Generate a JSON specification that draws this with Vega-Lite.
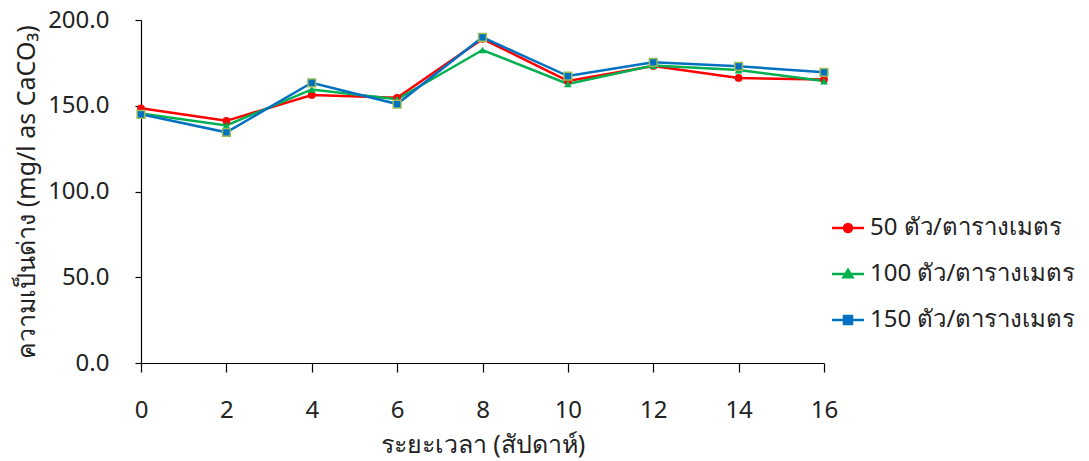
{
  "$schema": "https://vega.github.io/schema/vega-lite/v6.json",
  "autosize": "none",
  "width": 683,
  "height": 343,
  "padding": {"left": 141, "top": 20, "right": 265, "bottom": 98},
  "background": "white",
  "config": {
    "view": {"stroke": null},
    "font": "Tahoma, Noto Sans, sans-serif",
    "axis": {"grid": false, "domainColor": "black", "tickColor": "black", "labelColor": "#222", "titleColor": "#222", "labelFont": "Tahoma, Noto Sans, sans-serif", "titleFont": "Tahoma, Noto Sans, sans-serif", "labelFontSize": 24, "titleFontSize": 25, "titleFontWeight": "normal", "domainWidth": 1.2, "tickWidth": 1.2}
  },
  "data": {
    "values": [
      {"week": 0, "series": "50 ตัว/ตารางเมตร", "value": 148.5},
      {"week": 2, "series": "50 ตัว/ตารางเมตร", "value": 141.2},
      {"week": 4, "series": "50 ตัว/ตารางเมตร", "value": 156.3},
      {"week": 6, "series": "50 ตัว/ตารางเมตร", "value": 154.6},
      {"week": 8, "series": "50 ตัว/ตารางเมตร", "value": 189.0},
      {"week": 10, "series": "50 ตัว/ตารางเมตร", "value": 164.5},
      {"week": 12, "series": "50 ตัว/ตารางเมตร", "value": 173.2},
      {"week": 14, "series": "50 ตัว/ตารางเมตร", "value": 166.2},
      {"week": 16, "series": "50 ตัว/ตารางเมตร", "value": 165.3},
      {"week": 0, "series": "100 ตัว/ตารางเมตร", "value": 145.5},
      {"week": 2, "series": "100 ตัว/ตารางเมตร", "value": 138.5},
      {"week": 4, "series": "100 ตัว/ตารางเมตร", "value": 159.5},
      {"week": 6, "series": "100 ตัว/ตารางเมตร", "value": 153.8},
      {"week": 8, "series": "100 ตัว/ตารางเมตร", "value": 182.5},
      {"week": 10, "series": "100 ตัว/ตารางเมตร", "value": 162.7},
      {"week": 12, "series": "100 ตัว/ตารางเมตร", "value": 173.4},
      {"week": 14, "series": "100 ตัว/ตารางเมตร", "value": 170.8},
      {"week": 16, "series": "100 ตัว/ตารางเมตร", "value": 164.4},
      {"week": 0, "series": "150 ตัว/ตารางเมตร", "value": 145.0},
      {"week": 2, "series": "150 ตัว/ตารางเมตร", "value": 134.5},
      {"week": 4, "series": "150 ตัว/ตารางเมตร", "value": 163.4},
      {"week": 6, "series": "150 ตัว/ตารางเมตร", "value": 151.0},
      {"week": 8, "series": "150 ตัว/ตารางเมตร", "value": 189.9},
      {"week": 10, "series": "150 ตัว/ตารางเมตร", "value": 167.3},
      {"week": 12, "series": "150 ตัว/ตารางเมตร", "value": 175.3},
      {"week": 14, "series": "150 ตัว/ตารางเมตร", "value": 173.0},
      {"week": 16, "series": "150 ตัว/ตารางเมตร", "value": 169.5}
    ]
  },
  "encoding": {
    "x": {
      "field": "week", "type": "quantitative",
      "scale": {"domain": [0, 16], "nice": false, "zero": false},
      "axis": {"values": [0, 2, 4, 6, 8, 10, 12, 14, 16], "title": "ระยะเวลา (สัปดาห์)", "tickSize": 9, "labelPadding": 26, "titlePadding": 10, "labelFlush": false}
    },
    "y": {
      "field": "value", "type": "quantitative",
      "scale": {"domain": [0, 200], "nice": false},
      "axis": {"values": [0, 50, 100, 150, 200], "format": ".1f", "title": "ความเป็นด่าง (mg/l as CaCO₃)", "tickSize": 6, "labelPadding": 26, "titlePadding": 8}
    }
  },
  "layer": [
    {
      "mark": {"type": "line", "strokeWidth": 2.5},
      "encoding": {
        "color": {
          "field": "series", "type": "nominal",
          "scale": {"domain": ["50 ตัว/ตารางเมตร", "100 ตัว/ตารางเมตร", "150 ตัว/ตารางเมตร"], "range": ["#FF0000", "#00B050", "#0070C0"]},
          "sort": ["50 ตัว/ตารางเมตร", "100 ตัว/ตารางเมตร", "150 ตัว/ตารางเมตร"],
          "legend": {
            "title": null,
            "orient": "none",
            "legendX": 689,
            "legendY": 196,
            "labelFontSize": 24,
            "labelColor": "#222",
            "labelFont": "Tahoma, Noto Sans, sans-serif",
            "symbolSize": 400,
            "symbolStrokeWidth": 2.5,
            "labelOffset": 16,
            "rowPadding": 22,
            "labelLimit": 300,
            "encode": {
              "symbols": {
                "update": {
                  "shape": {"signal": "datum.value === '50 ตัว/ตารางเมตร' ? 'M-1,0H2.2M1,0A0.4,0.4 0 1,1 0.2,0A0.4,0.4 0 1,1 1,0Z' : datum.value === '100 ตัว/ตารางเมตร' ? 'M-1,0H2.2M0.6,-0.42L1.05,0.32L0.15,0.32Z' : 'M-1,0H2.2M0.2,-0.4H1V0.4H0.2Z'"},
                  "fill": {"scale": "color", "field": "value"},
                  "stroke": {"scale": "color", "field": "value"},
                  "opacity": {"value": 1}
                }
              }
            }
          }
        }
      }
    },
    {
      "transform": [{"filter": "datum.series === '50 ตัว/ตารางเมตร'"}],
      "mark": {"type": "point", "shape": "circle", "filled": true, "opacity": 1, "color": "#FF0000", "size": 60}
    },
    {
      "transform": [{"filter": "datum.series === '100 ตัว/ตารางเมตร'"}],
      "mark": {"type": "point", "shape": "triangle-up", "filled": true, "opacity": 1, "color": "#00B050", "size": 60}
    },
    {
      "transform": [{"filter": "datum.series === '150 ตัว/ตารางเมตร'"}],
      "mark": {"type": "point", "shape": "square", "filled": true, "opacity": 1, "fill": "#0070C0", "stroke": "#9BBB59", "strokeWidth": 1.5, "size": 60}
    }
  ]
}
